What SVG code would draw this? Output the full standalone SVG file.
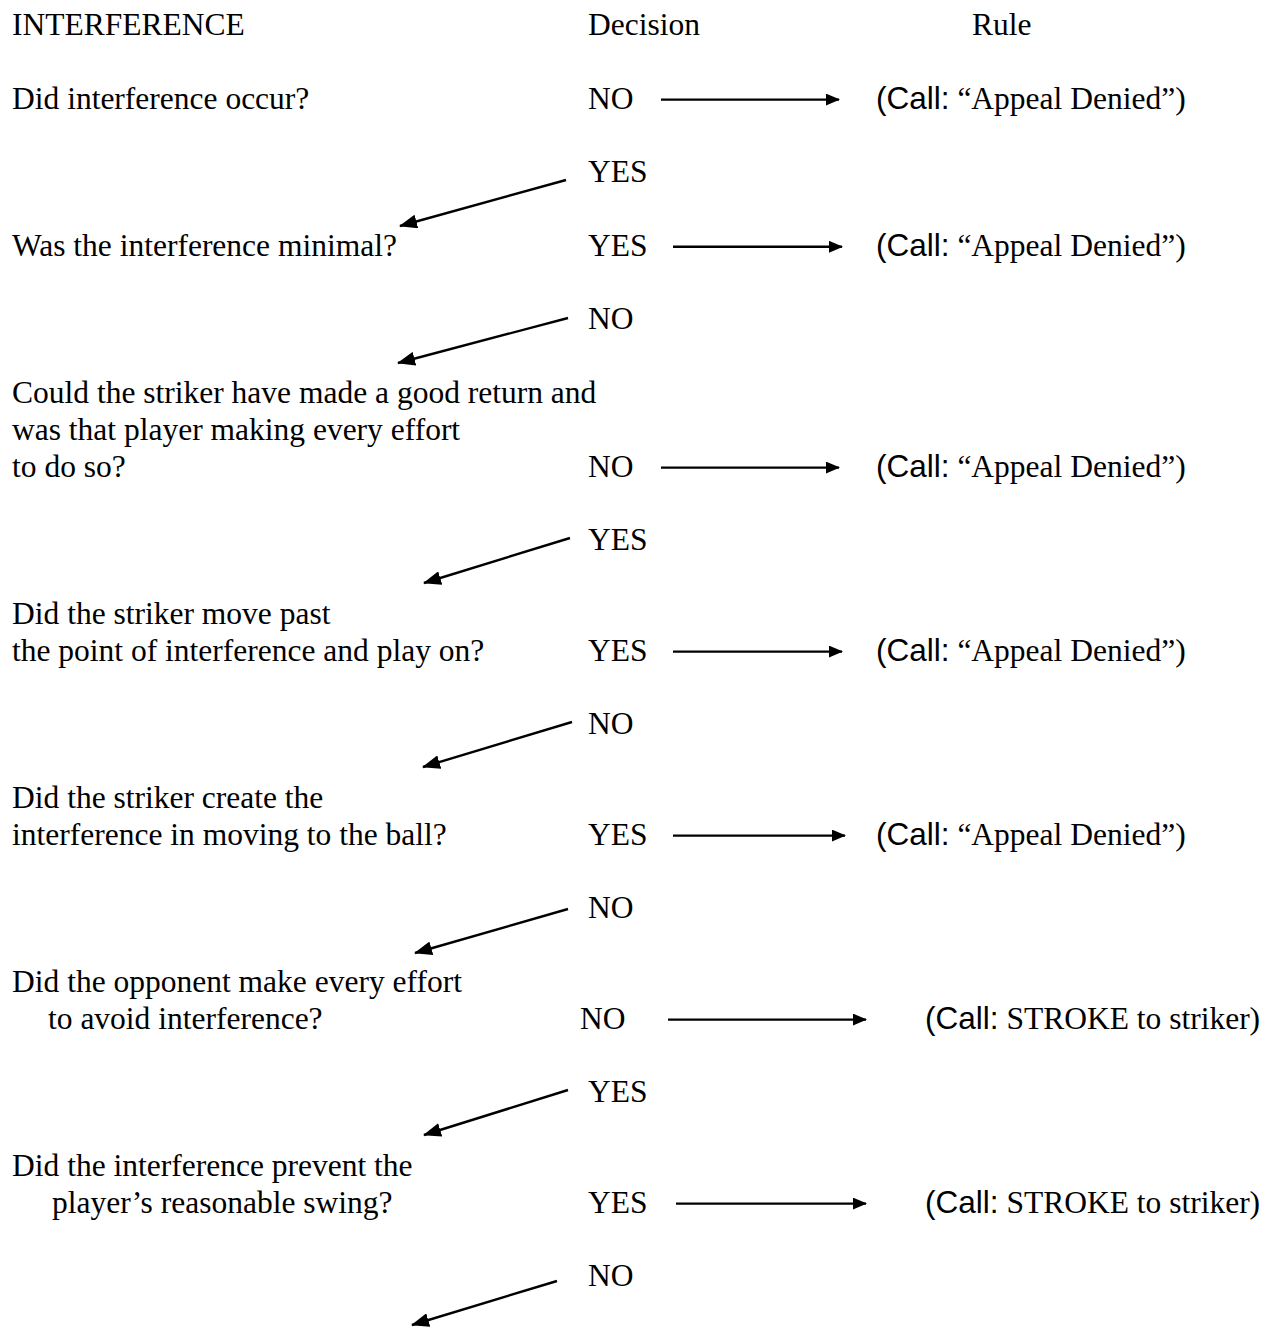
<svg xmlns="http://www.w3.org/2000/svg" width="1270" height="1327" viewBox="0 0 1270 1327">
<style>
text{font-family:"Liberation Serif","Times New Roman",serif;font-size:31.5px;fill:#000}
.s{font-family:"Liberation Sans",Arial,sans-serif}
.c line{stroke:#000;stroke-width:2.4}
</style>
<defs>
<marker id="ah" markerWidth="14" markerHeight="12" refX="13" refY="6" orient="auto" markerUnits="userSpaceOnUse">
<path d="M0,0 L14,6 L0,12 Z" fill="#000"/>
</marker>
<marker id="ad" markerWidth="18" markerHeight="14" refX="17" refY="7" orient="auto" markerUnits="userSpaceOnUse">
<path d="M0,0 L18,7 L0,14 Z" fill="#000"/>
</marker>
</defs>
<rect width="1270" height="1327" fill="#fff"/>
<g id="header">
<text x="12" y="35">INTERFERENCE</text>
<text x="588" y="35">Decision</text>
<text x="972" y="35">Rule</text>
</g>
<g id="q1"><text x="12" y="108.6">Did interference occur?</text></g>
<g id="d1"><text x="588" y="108.6">NO</text></g>
<g id="r1"><text x="876" y="108.6"><tspan class="s">(Call:</tspan> “Appeal Denied”)</text></g>
<g id="l1"><text x="588" y="182.2">YES</text></g>
<g id="q2"><text x="12" y="255.8">Was the interference minimal?</text></g>
<g id="d2"><text x="588" y="255.8">YES</text></g>
<g id="r2"><text x="876" y="255.8"><tspan class="s">(Call:</tspan> “Appeal Denied”)</text></g>
<g id="l2"><text x="588" y="329.4">NO</text></g>
<g id="q3"><text x="12" y="403">Could the striker have made a good return and</text><text x="12" y="439.8">was that player making every effort</text><text x="12" y="476.6">to do so?</text></g>
<g id="d3"><text x="588" y="476.6">NO</text></g>
<g id="r3"><text x="876" y="476.6"><tspan class="s">(Call:</tspan> “Appeal Denied”)</text></g>
<g id="l3"><text x="588" y="550.2">YES</text></g>
<g id="q4"><text x="12" y="623.8">Did the striker move past</text><text x="12" y="660.6">the point of interference and play on?</text></g>
<g id="d4"><text x="588" y="660.6">YES</text></g>
<g id="r4"><text x="876" y="660.6"><tspan class="s">(Call:</tspan> “Appeal Denied”)</text></g>
<g id="l4"><text x="588" y="734.2">NO</text></g>
<g id="q5"><text x="12" y="807.8">Did the striker create the</text><text x="12" y="844.6">interference in moving to the ball?</text></g>
<g id="d5"><text x="588" y="844.6">YES</text></g>
<g id="r5"><text x="876" y="844.6"><tspan class="s">(Call:</tspan> “Appeal Denied”)</text></g>
<g id="l5"><text x="588" y="918.2">NO</text></g>
<g id="q6"><text x="12" y="991.8">Did the opponent make every effort</text><text x="48" y="1028.6">to avoid interference?</text></g>
<g id="d6"><text x="580" y="1028.6">NO</text></g>
<g id="r6"><text x="925" y="1028.6"><tspan class="s">(Call:</tspan> STROKE to striker)</text></g>
<g id="l6"><text x="588" y="1102.2">YES</text></g>
<g id="q7"><text x="12" y="1175.8">Did the interference prevent the</text><text x="52" y="1212.6">player’s reasonable swing?</text></g>
<g id="d7"><text x="588" y="1212.6">YES</text></g>
<g id="r7"><text x="925" y="1212.6"><tspan class="s">(Call:</tspan> STROKE to striker)</text></g>
<g id="l7"><text x="588" y="1286.2">NO</text></g>
<g id="connectors" class="c">
<line x1="661" y1="99.6" x2="839" y2="99.6" marker-end="url(#ah)"/>
<line x1="673" y1="246.8" x2="842" y2="246.8" marker-end="url(#ah)"/>
<line x1="661" y1="467.6" x2="839" y2="467.6" marker-end="url(#ah)"/>
<line x1="673" y1="651.6" x2="842" y2="651.6" marker-end="url(#ah)"/>
<line x1="673" y1="835.6" x2="845" y2="835.6" marker-end="url(#ah)"/>
<line x1="668" y1="1019.6" x2="866" y2="1019.6" marker-end="url(#ah)"/>
<line x1="676" y1="1203.6" x2="866" y2="1203.6" marker-end="url(#ah)"/>
<line x1="566" y1="180" x2="400" y2="226" marker-end="url(#ad)"/>
<line x1="568" y1="318" x2="398" y2="363" marker-end="url(#ad)"/>
<line x1="570" y1="538" x2="424" y2="583" marker-end="url(#ad)"/>
<line x1="572" y1="722" x2="423" y2="767" marker-end="url(#ad)"/>
<line x1="568" y1="909" x2="415" y2="953" marker-end="url(#ad)"/>
<line x1="568" y1="1090" x2="424" y2="1135" marker-end="url(#ad)"/>
<line x1="557" y1="1281" x2="412" y2="1325" marker-end="url(#ad)"/>
</g>
</svg>
